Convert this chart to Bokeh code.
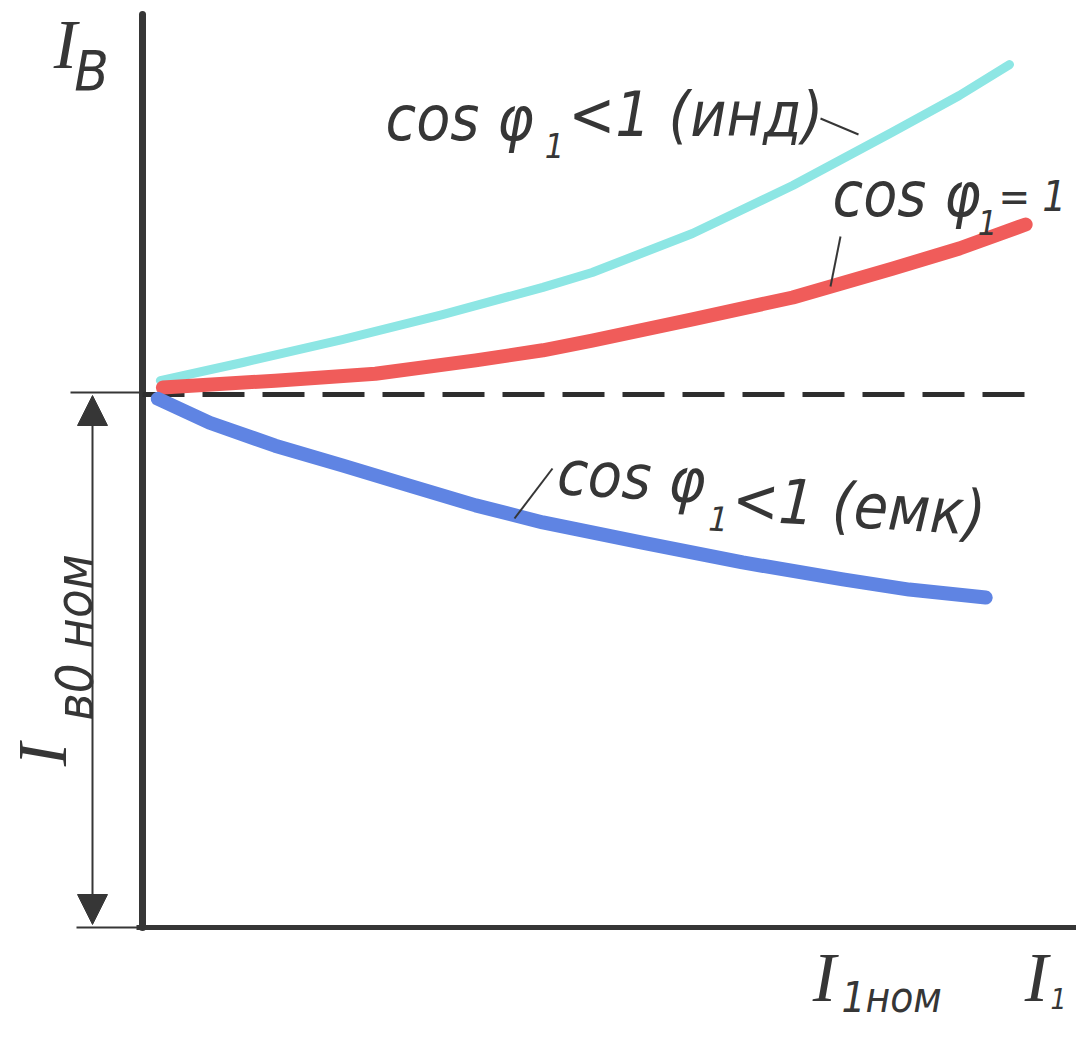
from bokeh.plotting import figure
from bokeh.models import Range1d, Arrow, NormalHead, ColumnDataSource
from bokeh.core.properties import value
from bokeh.embed import file_html
from bokeh.resources import INLINE

# ---------------- data (I1 relative to nominal, Ib relative to Ib0nom) -------------
x_ind = [0.021, 0.118, 0.235, 0.353, 0.471, 0.529, 0.647, 0.765, 0.882, 0.961, 1.020]
ib_ind = [1.026, 1.060, 1.103, 1.150, 1.201, 1.229, 1.302, 1.392, 1.492, 1.561, 1.619]

x_one = [0.024, 0.156, 0.274, 0.392, 0.471, 0.529, 0.647, 0.765, 0.882, 0.961, 1.039]
ib_one = [1.013, 1.026, 1.039, 1.064, 1.083, 1.101, 1.141, 1.182, 1.236, 1.274, 1.319]

x_cap = [0.018, 0.079, 0.156, 0.235, 0.314, 0.392, 0.471, 0.588, 0.706, 0.824, 0.902, 0.992]
ib_cap = [0.992, 0.947, 0.904, 0.867, 0.829, 0.792, 0.760, 0.722, 0.685, 0.653, 0.634, 0.619]

ib0_nom = 1.0
x_ref_end = 1.04

label_ind = ["cos φ", "1", "<1 (инд)"]
label_one = ["cos φ", "1", "= 1"]
label_cap = ["cos φ", "1", "<1 (емк)"]

# ---------------- mapping helpers for annotations (reference pixels -> data) -------
X0, XS, Y0, YS = 150.0, 850.0, 935.0, 533.0


def dx(px):
    return (px - X0) / XS


def dy(py):
    return (Y0 - py) / YS


W, H = 1076, 1025
p = figure(width=W, height=H, output_backend="svg", toolbar_location=None,
           x_range=Range1d(dx(8), dx(8 + W)), y_range=Range1d(dy(8 + H), dy(8)),
           min_border=0, background_fill_color="white", border_fill_color="white")
p.axis.visible = False
p.grid.visible = False
p.outline_line_color = None

INK = "#363636"
FONT = value("DejaVu Sans Condensed")
SERIF = value("Liberation Serif")

# axes
p.line([0, 0], [0, dy(22)], line_color=INK, line_width=7, line_cap="round")
p.line([dx(144), dx(1100)], [0, 0], line_color=INK, line_width=5)

# reference (no-load) dashed line
p.line([0, x_ref_end], [ib0_nom, ib0_nom], line_color="#2e2e2e", line_width=5,
       line_dash="42 18")

# curves
p.line(x_ind, ib_ind, line_color="#8de6e4", line_width=9, line_cap="round", line_join="round")
p.line(x_one, ib_one, line_color="#f05c5a", line_width=14, line_cap="round", line_join="round")
p.line(x_cap, ib_cap, line_color="#5f84e3", line_width=14, line_cap="round", line_join="round")

# dimension line for Ib0nom
p.line([dx(78), 0], [dy(400), dy(400)], line_color=INK, line_width=2)
p.line([dx(84), 0], [0, 0], line_color=INK, line_width=2)
p.add_layout(Arrow(x_start=dx(100), y_start=dy(932), x_end=dx(100), y_end=dy(403),
                   line_color=INK, line_width=2,
                   start=NormalHead(size=30, fill_color=INK, line_color=INK),
                   end=NormalHead(size=30, fill_color=INK, line_color=INK)))

# leader lines
p.line([dx(828), dx(866)], [dy(126), dy(142)], line_color=INK, line_width=2)
p.line([dx(848), dx(838)], [dy(244), dy(294)], line_color=INK, line_width=2)
p.line([dx(560), dx(522)], [dy(476), dy(526)], line_color=INK, line_width=2)


def txt(x, y, text, size, align="left", angle=0.0, font=FONT):
    src = ColumnDataSource(dict(x=[x], y=[y], t=[text]))
    p.text(x="x", y="y", text="t", source=src, text_font=font,
           text_font_style="italic", text_font_size=f"{size}px",
           text_align=align, text_baseline="middle", text_color=INK, angle=angle)


# axis labels
txt(dx(73), dy(52), "I", 70, "center", font=SERIF)
txt(dx(99), dy(78), "В", 56, "center")

txt(dx(50), dy(762), "I", 70, "center", angle=1.5708, font=SERIF)
txt(dx(82), dy(645), "в0 ном", 52, "center", angle=1.5708)

txt(dx(832), dy(985), "I", 70, "center", font=SERIF)
txt(dx(849), dy(1005), "1ном", 42, "left")
txt(dx(1044), dy(985), "I", 70, "center", font=SERIF)
txt(dx(1058), dy(1006), "1", 28, "left")

# curve labels
txt(dx(393), dy(126), label_ind[0], 62)
txt(dx(562), dy(153), label_ind[1], 34, "center")
txt(dx(576), dy(122), label_ind[2], 62)

txt(dx(840), dy(202), label_one[0], 62)
txt(dx(995), dy(230), label_one[1], 34, "center")
txt(dx(1006), dy(204), label_one[2], 42)

A3 = -0.06
txt(dx(565), dy(480), label_cap[0], 62, angle=A3)
txt(dx(726), dy(526), label_cap[1], 34, "center", angle=A3)
txt(dx(740), dy(506), label_cap[2], 62, angle=A3)

open("out.html", "w").write(file_html(p, INLINE))
